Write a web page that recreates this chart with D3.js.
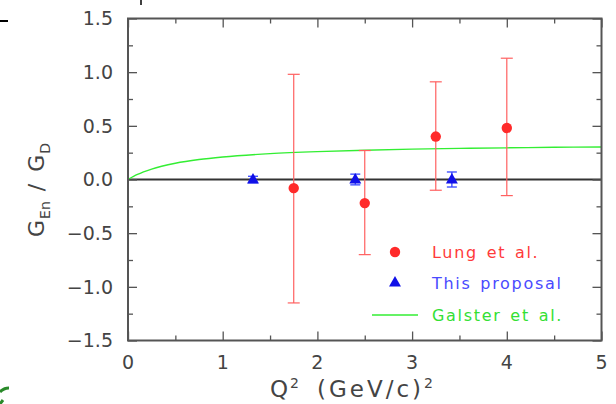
<!DOCTYPE html>
<html><head><meta charset="utf-8">
<script src="https://cdn.jsdelivr.net/npm/d3@7"></script>
<style>body{margin:0;background:#fff}svg{display:block}</style>
</head><body>
<script>
// Data
const lungQ2 = [1.75, 2.5, 3.25, 4.0];
const lungVal = [-0.08, -0.22, 0.40, 0.48];
const lungHi = [0.98, 0.27, 0.91, 1.13];
const lungLo = [-1.15, -0.70, -0.10, -0.15];

const propQ2 = [1.32, 2.40, 3.42];
const propVal = [0.0, 0.0, 0.0];
const propErr = [0.03, 0.05, 0.07];

const galsterQ2 = [0, 0.1, 0.25, 0.5, 0.75, 1, 1.5, 2, 2.5, 3, 3.5, 4, 4.5, 5];
const galsterVal = [0, 0.047, 0.097, 0.151, 0.186, 0.210, 0.241, 0.260, 0.273, 0.283, 0.290, 0.295, 0.300, 0.303];

const xTicks = [0, 1, 2, 3, 4, 5];
const yTicks = [-1.5, -1.0, -0.5, 0.0, 0.5, 1.0, 1.5];
const legendLabels = ["Lung et al.", "This proposal", "Galster et al."];

const W = 616, H = 404;
const svg = d3.select("body").append("svg").attr("width", W).attr("height", H);
const x = d3.scaleLinear().domain([0, 5]).range([128, 601.5]);
const y = d3.scaleLinear().domain([-1.5, 1.5]).range([340.5, 18.5]);
const axisCol = "#555";
const font = "DejaVu Sans, sans-serif";

const red = "#ff2a2a", blue = "#1010e8", green = "#33ee33";

// zero line
svg.append("line").attr("x1", x(0)).attr("x2", x(5)).attr("y1", y(0)).attr("y2", y(0))
  .attr("stroke", "#333").attr("stroke-width", 1.8);

// Galster curve
svg.append("path")
  .datum(galsterQ2.map((q, i) => [q, galsterVal[i]]))
  .attr("fill", "none").attr("stroke", green).attr("stroke-width", 1.4)
  .attr("d", d3.line().x(d => x(d[0])).y(d => y(d[1])).curve(d3.curveMonotoneX));

// Lung error bars
const lung = lungQ2.map((q, i) => ({q, v: lungVal[i], hi: lungHi[i], lo: lungLo[i]}));
const eb = svg.append("g").attr("stroke", "#ff6060").attr("stroke-width", 1.2);
lung.forEach(d => {
  eb.append("line").attr("x1", x(d.q)).attr("x2", x(d.q)).attr("y1", y(d.hi)).attr("y2", y(d.lo));
  [d.hi, d.lo].forEach(v => eb.append("line").attr("x1", x(d.q) - 6).attr("x2", x(d.q) + 6)
    .attr("y1", y(v)).attr("y2", y(v)));
});
svg.append("g").selectAll("circle").data(lung).join("circle")
  .attr("cx", d => x(d.q)).attr("cy", d => y(d.v)).attr("r", 5.2).attr("fill", red);

// proposal points
const prop = propQ2.map((q, i) => ({q, v: propVal[i], e: propErr[i]}));
const pb = svg.append("g").attr("stroke", "#3344ff").attr("stroke-width", 1.3);
prop.forEach(d => {
  pb.append("line").attr("x1", x(d.q)).attr("x2", x(d.q)).attr("y1", y(d.v + d.e)).attr("y2", y(d.v - d.e));
  [d.v + d.e, d.v - d.e].forEach(v => pb.append("line").attr("x1", x(d.q) - 5).attr("x2", x(d.q) + 5)
    .attr("y1", y(v)).attr("y2", y(v)));
});
const tri = d3.symbol().type(d3.symbolTriangle).size(62);
svg.append("g").selectAll("path").data(prop).join("path")
  .attr("transform", d => `translate(${x(d.q)},${y(d.v) + 0.5})`)
  .attr("d", tri).attr("fill", blue);

// axes with inward ticks
function addAxis(axisFn, scale, tickVals, size, transform) {
  const g = svg.append("g").attr("transform", transform)
    .call(axisFn(scale).tickValues(tickVals).tickSize(size).tickFormat(""));
  g.select(".domain").remove();
  g.selectAll(".tick line").attr("stroke", axisCol).attr("stroke-width", 1.3);
  return g;
}
const xMajor = xTicks, xMinor = d3.range(0.5, 5, 1);
const yMajor = yTicks, yMinor = d3.range(-1.25, 1.5, 0.5);
addAxis(d3.axisTop, x, xMajor, 9, `translate(0,${y(-1.5)})`);
addAxis(d3.axisTop, x, xMinor, 5, `translate(0,${y(-1.5)})`);
addAxis(d3.axisBottom, x, xMajor, 9, `translate(0,${y(1.5)})`);
addAxis(d3.axisBottom, x, xMinor, 5, `translate(0,${y(1.5)})`);
addAxis(d3.axisRight, y, yMajor, 9, `translate(${x(0)},0)`);
addAxis(d3.axisRight, y, yMinor, 5, `translate(${x(0)},0)`);
addAxis(d3.axisLeft, y, yMajor, 9, `translate(${x(5)},0)`);
addAxis(d3.axisLeft, y, yMinor, 5, `translate(${x(5)},0)`);

// frame
svg.append("rect").attr("x", x(0)).attr("y", y(1.5)).attr("width", x(5) - x(0)).attr("height", y(-1.5) - y(1.5))
  .attr("fill", "none").attr("stroke", axisCol).attr("stroke-width", 2);

// tick labels
const fmtY = d => (d < 0 ? "\u2212" : "") + Math.abs(d).toFixed(1);
svg.append("g").selectAll("text").data(yTicks).join("text")
  .attr("x", 113).attr("y", d => y(d)).attr("dy", "0.36em").attr("text-anchor", "end")
  .attr("font-family", font).attr("font-size", 19).attr("fill", "#444").text(fmtY);
svg.append("g").selectAll("text").data(xTicks).join("text")
  .attr("x", d => x(d)).attr("y", 369).attr("text-anchor", "middle")
  .attr("font-family", font).attr("font-size", 19).attr("fill", "#444").text(d => d);

// axis titles
const xt = svg.append("text").attr("x", 270).attr("y", 397).attr("text-anchor", "start")
  .attr("font-family", font).attr("font-size", 23).attr("fill", "#444");
xt.append("tspan").text("Q");
xt.append("tspan").attr("dy", -9).attr("dx", 2).attr("font-size", 14).text("2");
xt.append("tspan").attr("dy", 9).attr("dx", 18).attr("letter-spacing", 3).text("(GeV/c)");
xt.append("tspan").attr("dy", -9).attr("font-size", 14).text("2");

const yt = svg.append("text").attr("transform", `translate(44,237) rotate(-90)`).attr("text-anchor", "start")
  .attr("font-family", font).attr("font-size", 22).attr("fill", "#444");
yt.append("tspan").text("G");
yt.append("tspan").attr("dy", 6).attr("dx", 1).attr("font-size", 14).text("En");
yt.append("tspan").attr("dy", -6).attr("dx", 10).text("/");
yt.append("tspan").attr("dx", 12).text("G");
yt.append("tspan").attr("dy", 6).attr("dx", 1).attr("font-size", 14).text("D");

// legend
const lx = 395, ly = [252, 283, 315];
svg.append("circle").attr("cx", lx).attr("cy", ly[0]).attr("r", 5.2).attr("fill", red);
svg.append("path").attr("transform", `translate(${lx},${ly[1]})`).attr("d", tri).attr("fill", blue);
svg.append("line").attr("x1", 372).attr("x2", 418).attr("y1", ly[2]).attr("y2", ly[2])
  .attr("stroke", green).attr("stroke-width", 1.4);
const lcol = ["#ff3a3a", "#4a4aff", "#33e033"];
svg.append("g").selectAll("text").data(legendLabels).join("text")
  .attr("x", 432).attr("y", (d, i) => ly[i]).attr("dy", "0.36em")
  .attr("font-family", font).attr("font-size", 16).attr("letter-spacing", 1.7).attr("word-spacing", 2)
  .attr("fill", (d, i) => lcol[i]).text(d => d);

// stray marks at image edges
svg.append("line").attr("x1", 0).attr("x2", 8).attr("y1", 21).attr("y2", 21).attr("stroke", "#000").attr("stroke-width", 2);
svg.append("line").attr("x1", 141).attr("x2", 141).attr("y1", 0).attr("y2", 5).attr("stroke", "#000").attr("stroke-width", 1.5);
svg.append("path").attr("d", "M9,388 A12,12 0 0 0 0,392 M0,404 L3,400").attr("fill", "none").attr("stroke", "#2a8a2a").attr("stroke-width", 3);
</script>
</body></html>
